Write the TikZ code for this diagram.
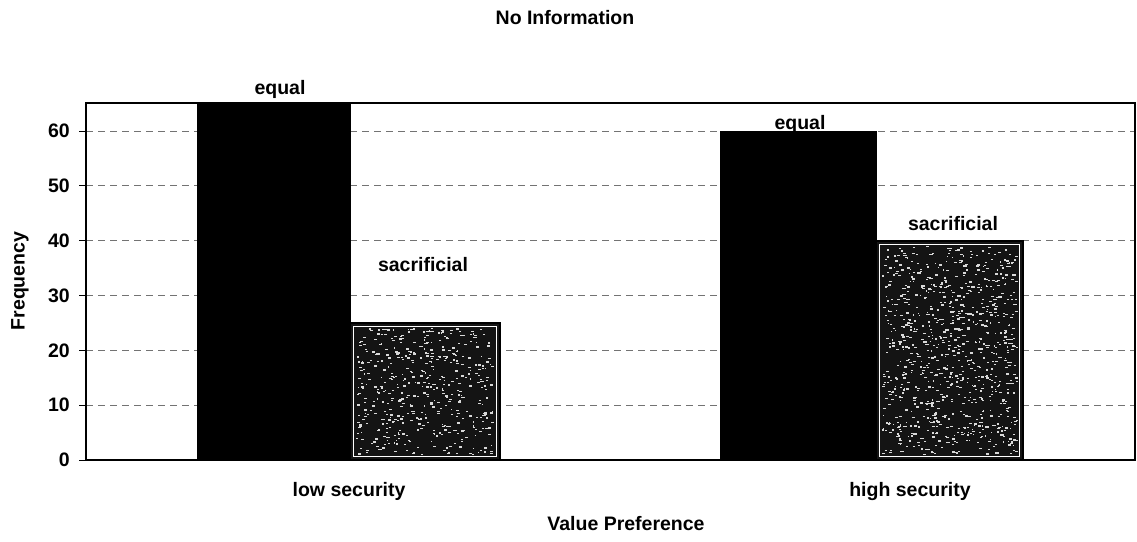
\documentclass[tikz,border=0pt]{standalone}
\usepackage{fontspec}
\setmainfont{Liberation Sans}
\begin{document}
\begin{tikzpicture}[x=1pt,y=-1pt,
  lbl/.style={font=\bfseries\fontsize{19.5}{22}\selectfont, inner sep=0pt},
  gridline/.style={black!55, line width=0.8pt, dash pattern=on 7pt off 5pt},
  plotframe/.style={line width=1.8pt},
  tickmark/.style={line width=1pt},
  eqbar/.style={fill=black, draw=black, line width=1pt},
  sacbar/.style={fill=black!92, draw=black, line width=2.2pt},
  sacinner/.style={draw=white, line width=1pt},
  speck/.style={fill=white!85!black}]
\useasboundingbox (0,0) rectangle (1137,541);
% value -> y position: 0 at 460, 5.483 units per frequency step
\def\yv#1{{460-5.483*#1}}

% horizontal grid
\foreach \v in {10,20,...,60}
  \draw[gridline] (86,\yv{\v}) -- (1135,\yv{\v});

% plot frame
\draw[plotframe] (86,103) rectangle (1135,460);

% y ticks and labels
\foreach \v in {0,10,...,60} {
  \draw[tickmark] (79,\yv{\v}) -- (86,\yv{\v});
  \node[lbl, anchor=east] (t\v) at (70,\yv{\v}) {\v};
}

% bars
\draw[eqbar] (197,\yv{65}) rectangle (350,460);
\draw[sacbar] (350,\yv{25}) rectangle (500,460);
\draw[sacinner] (353.5,{460-5.483*25+3.5}) rectangle (496.5,456.5);

\draw[eqbar] (720,\yv{60}) rectangle (876,460);
\draw[sacbar] (876,\yv{40}) rectangle (1023,460);
\draw[sacinner] (879.5,{460-5.483*40+3.5}) rectangle (1019.5,456.5);

% speckled texture of the sacrificial bars
\pgfmathsetseed{11}
\foreach \i in {1,...,480} {
  \pgfmathsetmacro\px{356+rnd*136}
  \pgfmathsetmacro\py{328+rnd*126}
  \pgfmathsetmacro\pw{1.2+rnd*2.2}
  \fill[speck] (\px,\py) rectangle ++(\pw,1.3);
}
\foreach \i in {1,...,900} {
  \pgfmathsetmacro\px{882+rnd*134}
  \pgfmathsetmacro\py{246+rnd*208}
  \pgfmathsetmacro\pw{1.2+rnd*2.2}
  \fill[speck] (\px,\py) rectangle ++(\pw,1.3);
}

% bar labels
\node[lbl] (eqlow)   at (280,89)  {equal};
\node[lbl] (saclow)  at (423,265) {sacrificial};
\node[lbl] (eqhigh)  at (800,124) {equal};
\node[lbl] (sachigh) at (953,224) {sacrificial};

% category labels
\node[lbl] (catlow)  at (349,491) {low security};
\node[lbl] (cathigh) at (910,491) {high security};

% axis titles and chart title
\node[lbl] (xtitle) at (626,524) {Value Preference};
\node[lbl, rotate=90] (ytitle) at (20,281) {Frequency};
\node[lbl] (title) at (565,18) {No Information};
\end{tikzpicture}
\end{document}
